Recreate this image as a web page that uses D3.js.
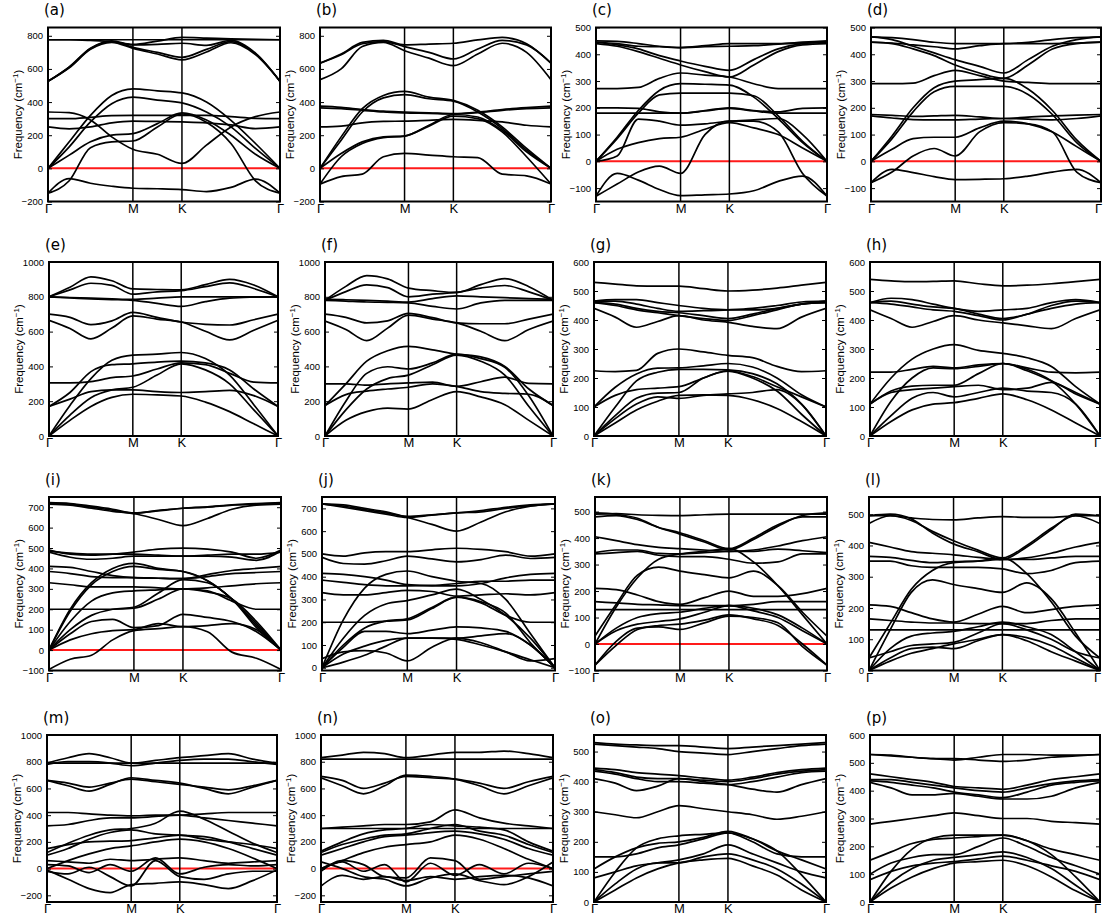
<!DOCTYPE html>
<html>
<head>
<meta charset="utf-8">
<script src="https://cdn.jsdelivr.net/npm/d3@7"></script>
<style>
  body { margin: 0; background: #fff; }
  svg { display: block; }
</style>
</head>
<body>
<svg id="chart" width="1105" height="920"></svg>
<script>
// Path Γ–M–K–Γ of the hexagonal Brillouin zone (cumulative path length, |ΓM| = 1)
const kNodes = [0, 1, 1.5774, 2.7321];
const kLabels = ["Γ", "M", "K", "Γ"];
// k-points at which each branch is sampled: ΓM quarters, MK half, KΓ quarters
const kSamples = [0, 0.25, 0.5, 0.75, 1, 1.2887, 1.5774, 1.866, 2.1547, 2.4434, 2.7321];

// Phonon branches (cm^-1) for every panel, one row per branch
const bandsA = [
  [776,776,776,776,776,776,776,776,776,776,776],
  [776,776,772,765,748,768,790,786,781,778,776],
  [525,612,725,770,745,748,755,742,772,695,525],
  [525,610,722,765,730,700,670,718,765,692,525],
  [525,606,718,760,724,690,655,702,758,686,525],
  [0,160,320,440,480,468,455,400,290,150,0],
  [0,130,280,390,430,412,395,340,250,120,0],
  [340,336,292,190,115,85,30,140,250,312,340],
  [300,300,308,318,320,320,320,320,312,302,300],
  [250,238,250,275,285,283,280,275,262,240,250],
  [0,80,160,200,210,270,335,292,200,85,0],
  [-150,-75,125,160,165,250,328,278,150,-75,-150],
  [-150,-62,-90,-108,-120,-123,-128,-140,-115,-65,-150]
];
const bandsB = [
  [635,690,760,772,745,750,755,775,790,752,635],
  [635,686,752,765,735,700,660,720,772,745,635],
  [535,600,735,760,710,665,620,690,755,700,535],
  [0,190,360,440,465,430,410,350,250,120,0],
  [0,170,340,425,445,420,405,340,240,110,0],
  [375,368,355,345,340,335,330,340,355,366,375],
  [365,360,350,340,335,332,328,336,350,360,365],
  [250,255,275,283,285,290,295,290,280,260,250],
  [0,90,160,190,195,260,325,310,230,100,0],
  [-95,70,150,185,195,255,315,300,220,70,-95],
  [-95,-50,-35,70,90,80,70,65,-35,-45,-95]
];
const bandsC = [
  [450,448,440,430,425,432,440,440,440,445,450],
  [445,440,430,428,425,428,430,432,438,442,445],
  [445,435,420,395,375,355,340,380,420,440,445],
  [440,430,410,385,360,335,315,360,410,435,440],
  [272,272,276,310,330,322,315,290,272,272,272],
  [0,90,190,265,290,288,285,240,160,70,0],
  [0,85,180,248,255,255,255,245,170,75,0],
  [200,200,198,185,180,190,200,190,185,198,200],
  [180,180,180,180,180,188,198,188,180,180,180],
  [0,20,158,150,135,140,150,155,160,100,0],
  [0,45,70,85,90,120,145,125,100,50,0],
  [-130,-45,-70,-105,-128,-125,-122,-110,-75,-55,-130],
  [-130,-85,-40,-18,-45,100,150,150,110,-45,-130]
];
const bandsD = [
  [465,462,455,445,440,440,440,445,455,462,465],
  [445,442,435,428,420,432,440,440,440,442,445],
  [465,455,430,405,380,355,330,380,430,455,465],
  [445,440,420,395,360,330,310,360,420,440,445],
  [290,290,292,320,340,320,300,295,290,290,290],
  [0,95,200,275,300,305,310,270,190,80,0],
  [0,85,185,260,280,280,280,250,175,70,0],
  [175,172,168,170,172,166,160,165,170,173,175],
  [170,162,156,155,155,158,160,158,155,160,170],
  [0,45,85,90,90,125,150,140,110,55,0],
  [-80,-40,20,48,20,110,145,140,110,-40,-80],
  [-80,-30,-42,-57,-68,-67,-65,-55,-40,-30,-80]
];
const bandsE = [
  [800,855,915,892,845,842,840,870,900,868,800],
  [800,840,878,866,815,828,835,858,880,848,800],
  [800,796,792,788,785,792,800,800,800,800,800],
  [800,794,788,784,780,762,745,772,792,798,800],
  [700,682,640,662,710,682,655,642,638,668,700],
  [665,618,558,620,690,672,655,602,552,608,665],
  [0,175,330,435,465,470,480,445,350,180,0],
  [170,250,370,410,415,425,430,420,380,270,170],
  [305,305,312,335,345,385,420,410,360,310,305],
  [0,120,220,265,280,350,415,380,300,150,0],
  [170,212,255,265,265,255,250,255,262,232,170],
  [0,90,170,222,240,236,230,195,140,70,0]
];
const bandsF = [
  [780,860,922,903,850,835,825,870,905,858,780],
  [780,830,868,853,800,815,825,850,865,828,780],
  [785,783,780,775,770,790,805,800,795,790,785],
  [780,775,770,768,765,745,730,765,780,780,780],
  [700,682,650,662,705,680,650,645,645,672,700],
  [660,612,548,620,695,672,650,602,548,612,660],
  [175,300,430,490,515,495,470,455,400,270,175],
  [0,200,360,398,385,420,470,445,395,230,0],
  [0,150,270,330,350,410,465,430,350,170,0],
  [300,300,292,300,305,310,285,312,338,302,300],
  [175,238,258,270,280,300,285,255,245,240,175],
  [0,90,140,160,155,210,255,225,180,90,0]
];
const bandsG = [
  [530,524,518,517,517,508,500,503,510,520,530],
  [465,470,470,460,450,440,435,435,440,455,465],
  [465,465,455,440,430,432,435,440,450,462,465],
  [460,455,440,430,425,415,405,420,440,455,460],
  [460,450,435,425,415,405,398,415,435,455,460],
  [440,410,375,395,415,400,392,378,370,410,440],
  [225,222,226,285,300,290,278,270,240,222,225],
  [100,168,214,234,235,242,250,238,200,142,100],
  [0,100,190,220,230,230,228,215,180,110,0],
  [100,140,160,165,170,200,225,205,170,135,100],
  [0,70,130,148,150,200,224,200,155,75,0],
  [0,60,110,135,130,140,145,150,160,110,0],
  [0,45,90,120,140,142,140,125,95,50,0]
];
const bandsH = [
  [540,535,532,533,535,525,518,520,525,532,540],
  [460,475,470,455,440,430,435,440,460,470,460],
  [460,465,455,445,440,420,405,420,450,465,460],
  [460,455,445,435,430,415,400,420,440,455,460],
  [435,405,375,395,415,400,390,380,370,405,435],
  [110,200,265,300,315,295,285,270,240,170,110],
  [220,220,230,240,235,245,250,235,220,218,220],
  [110,155,172,175,175,215,250,225,190,150,110],
  [0,120,200,235,232,240,250,230,190,110,0],
  [110,150,160,165,170,175,160,165,185,145,110],
  [0,70,130,150,135,150,165,155,150,110,0],
  [0,50,90,110,115,130,145,125,90,45,0]
];
const bandsI = [
  [720,715,700,685,670,685,695,700,710,715,720],
  [715,710,695,680,668,640,610,645,690,710,715],
  [722,718,705,690,672,682,695,702,712,718,722],
  [490,470,465,470,480,495,500,495,480,450,490],
  [480,455,445,450,460,460,460,465,470,470,480],
  [485,475,470,470,470,465,460,460,455,440,485],
  [0,200,330,400,425,400,385,340,250,130,0],
  [0,190,320,385,410,395,385,340,250,120,0],
  [410,405,385,365,355,352,350,370,390,400,410],
  [385,375,360,355,355,352,350,360,375,380,385],
  [330,320,310,310,310,305,300,305,315,325,330],
  [0,140,240,280,290,295,300,285,250,140,0],
  [0,100,170,200,210,280,345,330,250,110,0],
  [200,200,200,200,205,250,300,290,240,200,200],
  [0,80,140,150,110,120,175,160,140,90,0],
  [0,50,80,95,100,130,115,120,130,100,0],
  [-95,-45,-25,50,95,105,115,90,-10,-40,-95]
];
const bandsJ = [
  [720,715,700,685,665,672,680,690,705,715,720],
  [720,710,695,680,660,630,600,640,685,710,720],
  [720,705,690,675,660,670,680,685,700,712,720],
  [500,490,505,510,510,518,525,520,510,490,500],
  [485,458,455,470,490,478,465,475,495,480,485],
  [415,410,400,385,365,360,360,370,395,410,415],
  [385,375,365,360,360,362,370,380,380,385,385],
  [330,320,320,330,340,335,315,320,325,320,330],
  [0,210,350,410,425,400,380,370,300,150,0],
  [0,130,230,280,295,320,345,300,230,130,0],
  [0,100,175,205,215,265,310,290,240,110,0],
  [200,200,200,205,210,260,310,285,230,200,200],
  [0,90,160,160,150,165,180,175,160,100,0],
  [0,60,95,120,130,130,130,140,150,100,0],
  [40,70,75,65,30,90,130,110,70,30,40],
  [0,25,55,95,130,130,125,100,70,35,0]
];
const bandsK = [
  [490,492,488,486,485,488,490,490,490,490,490],
  [480,485,470,440,420,390,360,400,450,480,480],
  [495,490,475,440,415,385,355,395,445,485,495],
  [405,390,375,365,360,355,350,355,370,390,405],
  [345,355,355,342,340,345,350,350,358,352,345],
  [340,345,350,335,330,330,320,305,310,340,340],
  [0,140,250,320,340,350,360,310,220,110,0],
  [30,150,260,290,275,262,250,275,220,120,30],
  [210,205,185,160,150,175,200,180,180,190,210],
  [160,155,150,148,145,145,145,150,160,160,160],
  [130,130,130,130,130,130,130,130,130,130,130],
  [0,60,100,115,120,135,145,135,110,60,0],
  [0,50,75,85,95,120,145,125,100,50,0],
  [-80,10,60,65,55,80,105,100,80,-10,-80],
  [-80,-5,55,70,75,90,110,95,70,0,-80]
];
const bandsL = [
  [495,495,488,483,482,488,492,490,490,495,495],
  [470,495,480,445,415,385,360,400,455,495,470],
  [495,500,485,440,405,380,355,395,450,500,495],
  [410,395,380,375,370,362,355,360,375,395,410],
  [365,362,352,345,348,350,355,355,360,365,365],
  [350,350,335,330,330,330,325,310,320,345,350],
  [40,150,260,320,345,350,360,310,220,110,40],
  [0,130,250,290,275,262,250,280,230,120,0],
  [210,205,185,165,155,180,205,185,195,205,210],
  [165,160,155,152,152,150,150,150,160,165,165],
  [130,130,130,130,130,130,130,130,130,130,130],
  [0,70,110,120,125,140,155,140,115,60,0],
  [40,60,80,85,90,120,150,130,100,60,40],
  [0,40,70,75,70,95,115,105,80,40,0],
  [0,30,55,70,85,100,115,95,60,30,0]
];
const bandsM = [
  [790,830,860,830,790,810,830,845,860,820,790],
  [780,800,800,790,770,790,810,820,820,800,780],
  [790,790,790,790,790,790,790,790,790,790,790],
  [660,620,580,630,680,660,640,600,560,610,660],
  [660,640,610,640,670,650,630,610,590,620,660],
  [420,420,410,400,395,400,400,410,420,420,420],
  [320,330,360,380,380,390,400,380,360,340,320],
  [120,190,250,290,300,340,430,370,280,190,120],
  [100,150,220,270,290,260,250,240,200,150,100],
  [150,180,200,205,210,230,250,220,200,180,150],
  [0,60,110,150,170,200,220,200,150,80,0],
  [-10,-80,-150,-180,-120,-110,-100,-120,-150,-90,-10],
  [30,20,-30,30,-20,80,-40,10,30,20,30],
  [-20,-40,10,-60,-130,60,-60,-80,-40,-20,-20],
  [60,50,40,70,60,70,80,60,40,50,60]
];
const bandsN = [
  [830,850,870,860,830,850,870,870,880,860,830],
  [820,820,820,820,820,820,820,820,820,820,820],
  [680,620,560,620,700,690,670,620,560,620,680],
  [690,660,600,640,690,680,670,640,600,650,690],
  [300,310,320,330,330,350,440,380,340,320,300],
  [300,300,300,300,300,300,300,300,300,300,300],
  [130,200,260,290,300,330,320,310,290,200,130],
  [120,180,220,250,260,300,330,280,250,180,120],
  [100,150,200,240,250,270,280,260,220,150,100],
  [0,60,120,160,180,200,250,220,150,70,0],
  [-130,-50,-80,-60,-90,-60,-80,-60,-50,-70,-130],
  [0,50,-20,30,-100,40,-50,30,-40,40,0],
  [-20,60,30,-60,-70,80,60,-80,-60,-40,-20],
  [50,0,-60,-80,-130,-70,-40,-90,-120,-60,50]
];
const bandsO = [
  [530,525,522,520,520,515,510,515,520,525,530],
  [525,520,515,510,500,495,490,500,510,520,525],
  [445,440,430,425,420,412,405,415,430,440,445],
  [440,430,415,410,410,405,400,410,425,435,440],
  [435,425,410,400,400,395,390,400,415,430,435],
  [410,395,370,385,410,400,390,375,365,390,410],
  [300,290,280,300,320,310,300,290,275,285,300],
  [0,100,180,210,220,225,230,210,170,90,0],
  [110,150,180,195,200,215,235,210,170,140,110],
  [150,150,160,180,190,210,230,200,160,150,150],
  [0,60,110,130,130,150,160,140,110,60,0],
  [80,100,120,130,140,160,190,160,130,100,80],
  [0,40,80,110,130,140,145,120,90,40,0]
];
const bandsP = [
  [530,528,520,515,510,520,530,530,528,528,530],
  [530,525,520,515,515,510,505,510,520,525,530],
  [440,440,430,420,410,400,395,410,425,435,440],
  [435,430,420,410,395,385,375,395,420,430,435],
  [430,410,385,385,390,380,370,370,380,410,430],
  [460,450,440,430,415,410,405,420,440,450,460],
  [280,290,300,310,320,310,300,300,290,285,280],
  [0,110,190,230,240,240,240,220,170,90,0],
  [150,180,210,225,230,235,240,220,190,170,150],
  [100,140,160,170,170,200,230,200,160,130,100],
  [0,70,120,150,160,170,180,160,120,60,0],
  [80,110,130,140,145,155,165,150,130,110,80],
  [0,50,90,120,140,145,150,130,90,40,0]
];

const panelNames = ["a","b","c","d","e","f","g","h","i","j","k","l","m","n","o","p"];
const panelBands = [bandsA,bandsB,bandsC,bandsD,bandsE,bandsF,bandsG,bandsH,
                    bandsI,bandsJ,bandsK,bandsL,bandsM,bandsN,bandsO,bandsP];
// Frequency axis range and tick values of each panel
const yDomains = [[-200,850],[-200,850],[-150,500],[-150,500],
                  [0,1000],[0,1000],[0,600],[0,600],
                  [-100,750],[-12,750],[-100,555],[0,555],
                  [-250,1000],[-250,1000],[0,555],[0,600]];
const yTicks = [
  [-200,0,200,400,600,800],[-200,0,200,400,600,800],
  [-100,0,100,200,300,400,500],[-100,0,100,200,300,400,500],
  [0,200,400,600,800,1000],[0,200,400,600,800,1000],
  [0,100,200,300,400,500,600],[0,100,200,300,400,500,600],
  [-100,0,100,200,300,400,500,600,700],[0,100,200,300,400,500,600,700],
  [-100,0,100,200,300,400,500],[0,100,200,300,400,500],
  [-200,0,200,400,600,800,1000],[-200,0,200,400,600,800,1000],
  [0,100,200,300,400,500],[0,100,200,300,400,500,600]
];
// panels with imaginary (negative) modes get a zero-frequency guide
const zeroGuide = [true,true,true,true,false,false,false,false,
                   true,false,true,false,true,true,false,false];

// ---- layout ----
const frameLeft  = [48,320,596,871, 49,325,594,870, 49,322,595,869, 47,321,594,870];
const frameWidth = [232,231,231,230, 229,228,232,230, 232,233,232,231, 230,232,232,230];
const rowTop    = [27.5, 262, 497, 735];
const rowBottom = [201.5, 436, 670.5, 902];
const pageWidth = 1105;

const svg = d3.select("#chart");
const defs = svg.append("defs");
const tickFont = "'Liberation Sans', Arial, Helvetica, sans-serif";
const freqFormat = d3.format("d");

panelNames.forEach((name, i) => {
  const row = Math.floor(i / 4);
  const x0 = frameLeft[i], x1 = x0 + frameWidth[i];
  const y0 = rowTop[row], y1 = rowBottom[row];

  const x = d3.scaleLinear().domain([kNodes[0], kNodes[3]]).range([x0, x1]);
  const y = d3.scaleLinear().domain(yDomains[i]).range([y1, y0]);

  const g = svg.append("g").attr("class", "panel-" + name);

  defs.append("clipPath").attr("id", "clip-" + name)
    .append("rect").attr("x", x0).attr("y", y0)
    .attr("width", x1 - x0).attr("height", y1 - y0);

  const plot = g.append("g").attr("clip-path", `url(#clip-${name})`);

  if (zeroGuide[i]) {
    plot.append("line")
      .attr("x1", x0).attr("x2", x1)
      .attr("y1", y(0)).attr("y2", y(0))
      .attr("stroke", "#ff1a1a").attr("stroke-width", 2);
  }

  const line = d3.line()
    .x((d, j) => x(kSamples[j]))
    .y(d => y(d))
    .curve(d3.curveMonotoneX);

  plot.selectAll("path.band")
    .data(panelBands[i])
    .join("path")
    .attr("class", "band")
    .attr("d", line)
    .attr("fill", "none")
    .attr("stroke", "#000")
    .attr("stroke-width", 1.7)
    .attr("stroke-linejoin", "round");

  // high-symmetry point separators
  g.selectAll("line.hs")
    .data(kNodes.slice(1, 3))
    .join("line")
    .attr("class", "hs")
    .attr("x1", d => x(d)).attr("x2", d => x(d))
    .attr("y1", y0).attr("y2", y1)
    .attr("stroke", "#000").attr("stroke-width", 1.5);

  // left axis: inward ticks
  const left = g.append("g")
    .attr("transform", `translate(${x0},0)`)
    .call(d3.axisLeft(y).tickValues(yTicks[i]).tickSize(-4).tickPadding(5)
      .tickFormat(freqFormat));
  left.select(".domain").remove();
  left.selectAll("text")
    .attr("font-family", tickFont).attr("font-size", 9.5).attr("fill", "#000");
  left.selectAll("line").attr("stroke", "#000");

  // right axis: inward ticks, no labels
  const right = g.append("g")
    .attr("transform", `translate(${x1},0)`)
    .call(d3.axisRight(y).tickValues(yTicks[i]).tickSize(-4).tickFormat(""));
  right.select(".domain").remove();

  // Γ M K Γ labels
  const bottom = g.append("g")
    .attr("transform", `translate(0,${y1})`)
    .call(d3.axisBottom(x).tickValues(kNodes).tickSize(0).tickPadding(2)
      .tickFormat((d, j) => kLabels[j]));
  bottom.select(".domain").remove();
  bottom.selectAll("text")
    .attr("font-family", tickFont).attr("font-size", 13).attr("fill", "#000")
    .attr("dx", (d, j) => (j === kNodes.length - 1 && x1 + 6 > pageWidth) ? -3 : 0);

  // frame
  g.append("rect")
    .attr("x", x0).attr("y", y0)
    .attr("width", x1 - x0).attr("height", y1 - y0)
    .attr("fill", "none").attr("stroke", "#000").attr("stroke-width", 2);

  // axis title
  const title = g.append("text")
    .attr("transform", `translate(${x0 - 26},${(y0 + y1) / 2}) rotate(-90)`)
    .attr("text-anchor", "middle")
    .attr("font-family", tickFont)
    .attr("font-size", 11.5)
    .attr("fill", "#000");
  title.append("tspan").text("Frequency (cm");
  title.append("tspan").attr("dy", -4.5).attr("font-size", 8).text("−1");
  title.append("tspan").attr("dy", 4.5).text(")");

  // panel letter
  g.append("text")
    .attr("x", x0 - 4).attr("y", y0 - 12.5)
    .attr("font-family", "'DejaVu Sans', sans-serif")
    .attr("font-size", 15)
    .attr("fill", "#000")
    .text(`(${name})`);
});
</script>
</body>
</html>
